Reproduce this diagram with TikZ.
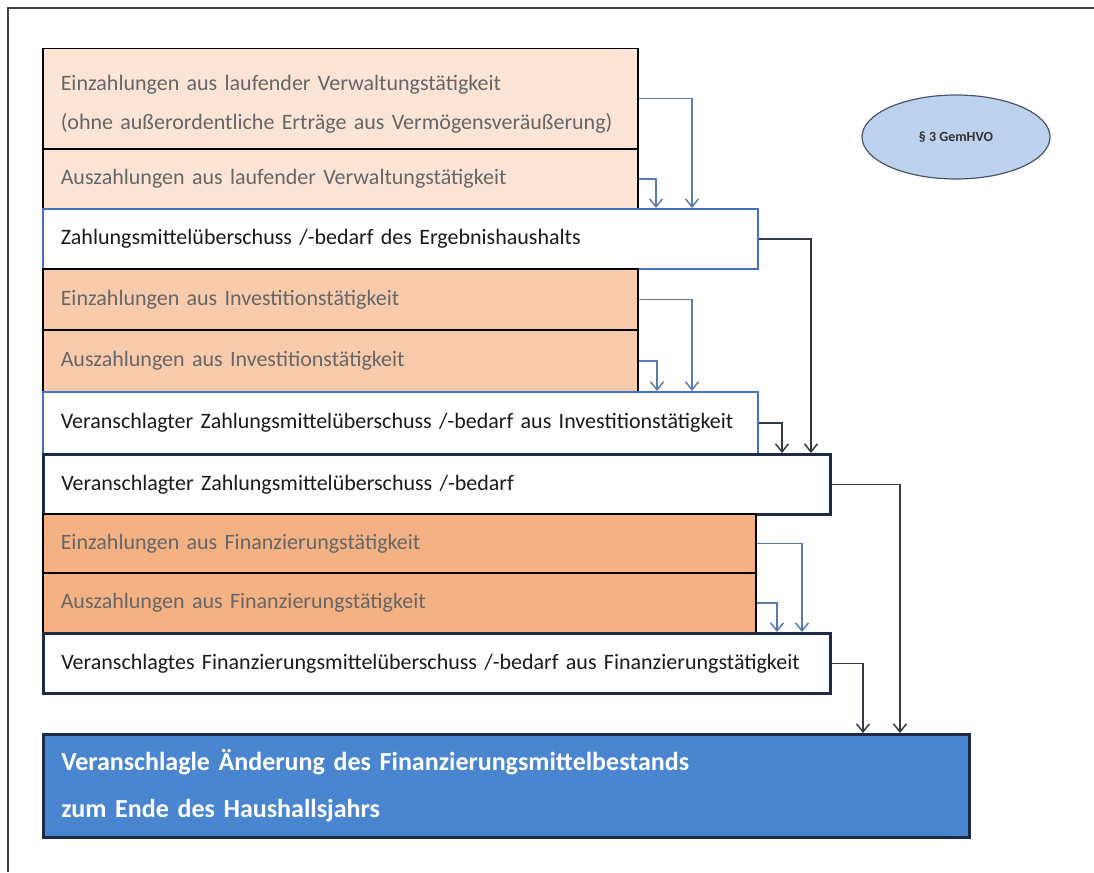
\documentclass[tikz,border=0pt]{standalone}
\usepackage{fontspec}
\setmainfont{Carlito}
\usetikzlibrary{arrows.meta,shapes.geometric,calc}
\definecolor{peachA}{HTML}{FCE4D6}
\definecolor{peachB}{HTML}{F8CBAD}
\definecolor{peachC}{HTML}{F4B183}
\definecolor{bigblue}{HTML}{4A86D0}
\definecolor{ellfill}{HTML}{BDD2EE}
\definecolor{ellline}{HTML}{4A5468}
\definecolor{bordblue}{HTML}{4472C4}
\definecolor{navy}{HTML}{1F2B45}
\definecolor{arrblue}{HTML}{5A7BAF}
\definecolor{arrdark}{HTML}{333A45}
\definecolor{lighttxt}{HTML}{666666}
\definecolor{darktxt}{HTML}{1A1A1A}
\tikzset{
  rowbox/.style={rectangle, anchor=north west, inner xsep=18pt, inner ysep=0pt,
    align=left, font=\fontsize{22}{39}\selectfont},
  peachbox/.style={rowbox, draw=black, line width=1.5pt, text=lighttxt},
  sumbox/.style={rowbox, fill=white, draw=bordblue, line width=1.5pt, text=darktxt},
  totbox/.style={rowbox, fill=white, draw=navy, line width=2.5pt, text=darktxt},
  arrA/.style={draw=arrblue, line width=1.5pt, -{Straight Barb[length=8pt,width=13pt,line width=1.5pt]}},
  arrB/.style={draw=arrdark, line width=1.5pt, -{Straight Barb[length=8pt,width=13pt,line width=1.5pt]}},
}
\begin{document}
\begin{tikzpicture}[x=1pt,y=-1pt]
\useasboundingbox (0,0) rectangle (1094,872);
\draw[line width=2pt, draw=black!75] (8,872) -- (8,8) -- (1094,8);

\node[peachbox, fill=peachA, text width=559pt, minimum height=100pt] (b1) at (42,48)
  {\mbox{}\\[-13pt]Einzahlungen aus laufender Verwaltungstätigkeit\\(ohne außerordentliche Erträge aus Vermögensveräußerung)};
\node[peachbox, fill=peachA, text width=559pt, minimum height=60pt] (b2) at (42,148)
  {Auszahlungen aus laufender Verwaltungstätigkeit};
\node[sumbox, text width=679pt, minimum height=60pt] (b3) at (42,208)
  {Zahlungsmittelüberschuss /-bedarf des Ergebnishaushalts};
\node[peachbox, fill=peachB, text width=559pt, minimum height=61pt] (b4) at (42,268)
  {Einzahlungen aus Investitionstätigkeit};
\node[peachbox, fill=peachB, text width=559pt, minimum height=62pt] (b5) at (42,329)
  {Auszahlungen aus Investitionstätigkeit};
\node[sumbox, text width=679pt, minimum height=62pt] (b6) at (42,391)
  {Veranschlagter Zahlungsmittelüberschuss /-bedarf aus Investitionstätigkeit};
\node[totbox, text width=751pt, minimum height=60pt] (b7) at (42,453)
  {Veranschlagter Zahlungsmittelüberschuss /-bedarf};
\node[peachbox, fill=peachC, text width=677pt, minimum height=59pt] (b8) at (42,513)
  {Einzahlungen aus Finanzierungstätigkeit};
\node[peachbox, fill=peachC, text width=677pt, minimum height=60pt] (b9) at (42,572)
  {Auszahlungen aus Finanzierungstätigkeit};
\node[totbox, text width=751pt, minimum height=60pt] (b10) at (42,632)
  {Veranschlagtes Finanzierungsmittelüberschuss /-bedarf aus Finanzierungstätigkeit};
\node[rowbox, fill=bigblue, draw=navy, line width=2.5pt, text=white,
  font=\bfseries\fontsize{26}{47}\selectfont, text width=890pt, minimum height=103pt] (b11) at (42,733)
  {Veranschlagle Änderung des Finanzierungsmittelbestands\\zum Ende des Haushallsjahrs};

\node[ellipse, draw=ellline, line width=1.2pt, fill=ellfill, minimum width=188pt, minimum height=84pt,
  font=\bfseries\fontsize{14}{16}\selectfont, text=black!80] (ell) at (956,137) {§ 3 GemHVO};

\draw[arrA] (b1.east) -| ([xshift=650pt]b3.north west);
\draw[arrA] (b2.east) -| ([xshift=614pt]b3.north west);
\draw[arrB] (b3.east) -| ([xshift=769pt]b7.north west);
\draw[arrA] (b4.east) -| ([xshift=650pt]b6.north west);
\draw[arrA] (b5.east) -| ([xshift=615pt]b6.north west);
\draw[arrB] (b6.east) -| ([xshift=740pt]b7.north west);
\draw[arrB] (b7.east) -| ([xshift=858pt]b11.north west);
\draw[arrA] (b8.east) -| ([xshift=760pt]b10.north west);
\draw[arrA] (b9.east) -| ([xshift=735pt]b10.north west);
\draw[arrB] (b10.east) -| ([xshift=821pt]b11.north west);
\end{tikzpicture}
\end{document}
